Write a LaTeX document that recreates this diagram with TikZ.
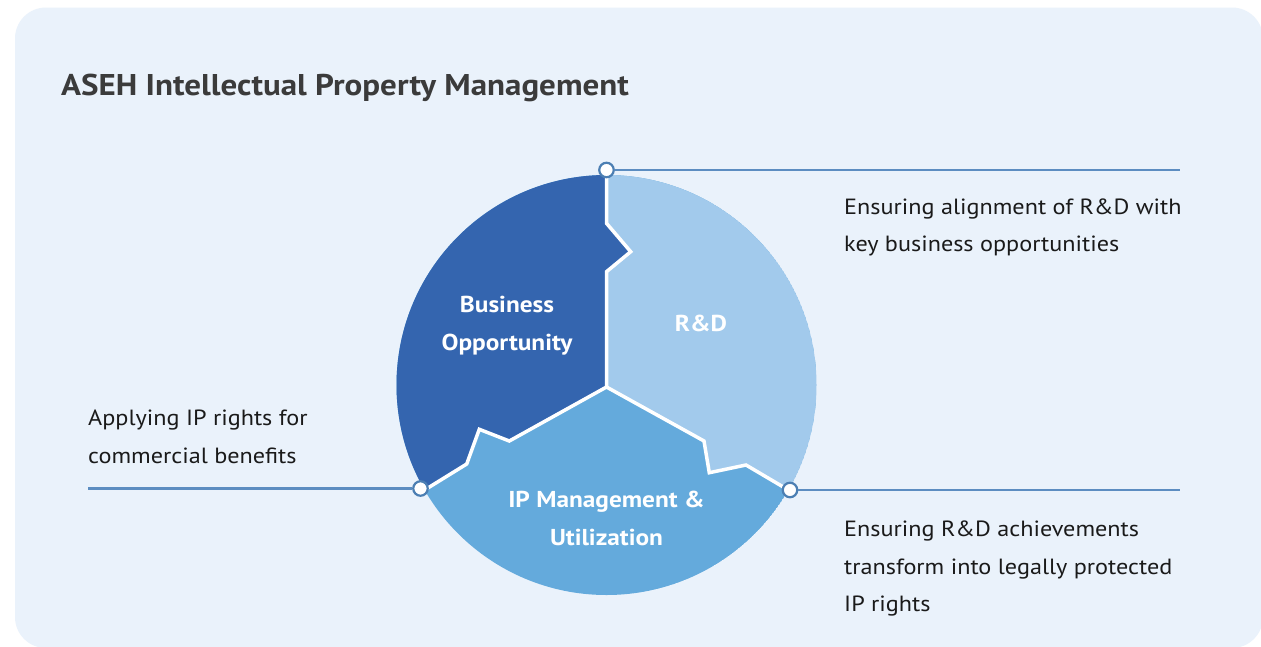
\documentclass[tikz,border=0pt]{standalone}
\usepackage{fontspec}
\setmainfont{PT Sans}[FakeStretch=1.1]
\definecolor{bgc}{HTML}{EAF2FB}
\definecolor{bizc}{HTML}{3465AF}
\definecolor{rdc}{HTML}{A2CAEC}
\definecolor{ipc}{HTML}{64AADC}
\definecolor{mkc}{HTML}{4C7FB3}
\definecolor{lnc}{HTML}{5C8DC1}
\definecolor{ttc}{HTML}{3B3B3B}
\definecolor{txc}{HTML}{1A1A1A}
\begin{document}
\begin{tikzpicture}[x=1pt,y=-1pt,
  sep/.style={draw=white,line width=3.5pt},
  marker/.style={circle,draw=mkc,fill=white,line width=2.2pt,minimum size=14.5pt,inner sep=0pt},
  conn/.style={draw=lnc,line width=2.5pt},
  body/.style={font=\fontsize{22}{37.5}\selectfont,text=txc,align=left,inner sep=0pt,anchor=base west},
  seglabel/.style={font=\fontsize{23}{38}\selectfont\bfseries,text=white,align=center,inner sep=0pt,anchor=base}]
\useasboundingbox (0,0) rectangle (1261,646);
\fill[white] (0,0) rectangle (1261,646);
\fill[bgc,rounded corners=31pt] (15,7.5) rectangle (1263,648);
% title
\node[font=\fontsize{30}{36}\selectfont\bfseries,text=ttc,inner sep=0pt,anchor=base west] (title) at (61,95) {ASEH Intellectual Property Management};
% geometry
\coordinate (C) at (606.5,385);
\coordinate (O) at (606.5,387);
\coordinate (T) at (606.5,175);
\coordinate (L) at (424.6,490);
\coordinate (R) at (788.4,490);
\coordinate (a1) at (606.5,271.7);
\coordinate (a2) at (630.7,251.7);
\coordinate (a3) at (606.5,223.3);
\coordinate (b1) at (509.3,441);
\coordinate (b2) at (479.3,429.3);
\coordinate (b3) at (466.7,464);
\coordinate (c1) at (704,441);
\coordinate (c2) at (709.3,472.7);
\coordinate (c3) at (746,465);
\begin{scope}
  \clip (C) circle[radius=210];
  \fill[ipc] (C) circle[radius=210];
  \fill[bizc] (O)--(a1)--(a2)--(a3)--(606.5,150)--(370,150)--(370,512)--(L)--(b3)--(b2)--(b1)--cycle;
  \fill[rdc] (O)--(a1)--(a2)--(a3)--(606.5,150)--(840,150)--(840,505)--(R)--(c3)--(c2)--(c1)--cycle;
\end{scope}
\draw[sep] (T)--(a3)--(a2)--(a1)--(O);
\draw[sep] (O)--(b1)--(b2)--(b3)--(L);
\draw[sep] (O)--(c1)--(c2)--(c3)--(R);
% segment labels
\node[seglabel] (biz) at (507,350.7) {Business\\Opportunity};
\node[seglabel] (rd) at (701,331.7) {R\&D};
\node[seglabel] (ip) at (606.5,545) {IP Management \&\\Utilization};
% markers and connectors
\node[marker] (mT) at (606.5,170) {};
\node[marker] (mL) at (420.5,488.5) {};
\node[marker] (mR) at (790,490) {};
\coordinate (eT) at (1180,170);
\coordinate (eL) at (88,488.5);
\coordinate (eR) at (1180,490);
\draw[conn] (mT) -- (eT);
\draw[conn] (mL) -- (eL);
\draw[conn] (mR) -- (eR);
% descriptions
\node[body] (dT) at (844,251.5) {Ensuring alignment of R\&D with\\key business opportunities};
\node[body] (dL) at (88,463.3) {Applying IP rights for\\commercial benefits};
\node[body] (dR) at (844,611.7) {Ensuring R\&D achievements\\transform into legally protected\\IP rights};
\end{tikzpicture}
\end{document}
